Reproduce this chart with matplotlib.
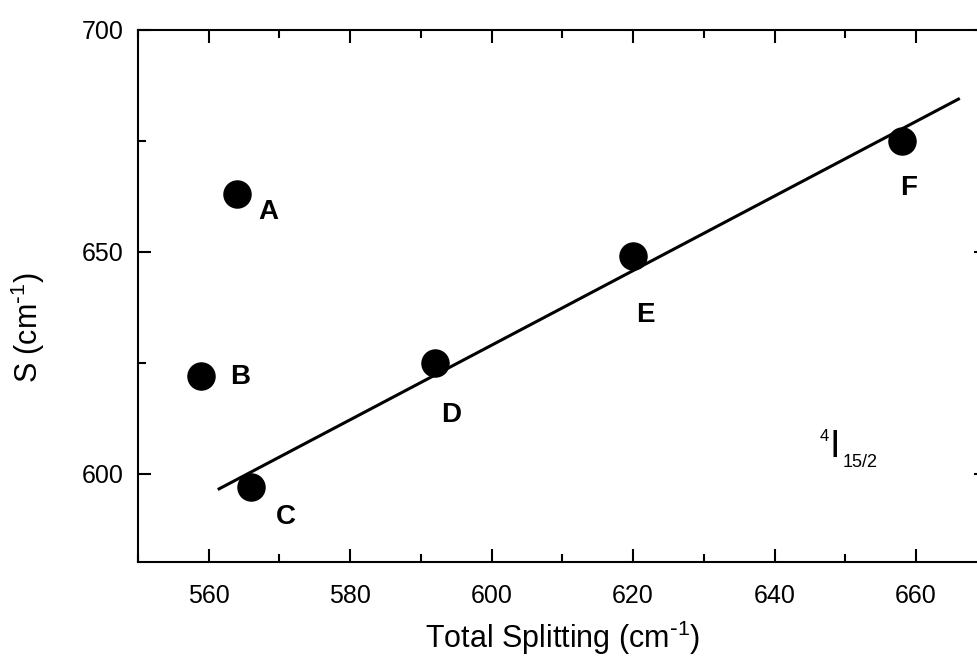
import numpy as np
import matplotlib
matplotlib.use("Agg")
import matplotlib.pyplot as plt
from matplotlib.ticker import MultipleLocator

plt.rcParams['font.family'] = ['Liberation Sans', 'DejaVu Sans']
plt.rcParams['mathtext.default'] = 'regular'

# sites and their (total splitting, S) values, cm^-1
site_names = ['A', 'B', 'C', 'D', 'E', 'F']
total_splitting = [564, 559, 566, 592, 620, 658]
s_values = [663, 622, 597, 625, 649, 675]
# sites used for the linear fit
fit_sites = ['C', 'D', 'E', 'F']
fit_range = [561.5, 666]

# where each letter sits relative to its point (points)
label_offsets = {
    'A': (23, -13), 'B': (28, -1), 'C': (25, -22),
    'D': (12, -38), 'E': (9, -42), 'F': (5, -34),
}

fig = plt.figure(figsize=(9.77, 6.56), dpi=100)
ax = fig.add_axes([0.141, 0.1428, 0.869, 0.8115])

idx = [site_names.index(s) for s in fit_sites]
fx = np.array(total_splitting)[idx]
fy = np.array(s_values)[idx]
slope, intercept = np.polyfit(fx, fy, 1)
xl = np.array(fit_range)
ax.plot(xl, slope * xl + intercept, color='black', lw=2.2, zorder=2)

ax.plot(total_splitting, s_values, 'o', color='black', ms=19.5, zorder=3)
for name, x, y in zip(site_names, total_splitting, s_values):
    ax.annotate(name, (x, y), xytext=label_offsets[name], textcoords='offset points',
                ha='center', va='center', fontsize=20, fontweight='bold')

# term symbol 4I15/2
ax.text(0.808, 0.228, '4', transform=ax.transAxes, fontsize=12,
        ha='center', va='baseline')
ax.text(0.821, 0.198, 'I', transform=ax.transAxes, fontsize=27,
        ha='center', va='baseline')
ax.text(0.830, 0.18, '15/2', transform=ax.transAxes, fontsize=13,
        ha='left', va='baseline')

ax.set_xlim(550, 670)
ax.set_ylim(580, 700)
ax.xaxis.set_major_locator(MultipleLocator(20))
ax.xaxis.set_minor_locator(MultipleLocator(10))
ax.yaxis.set_major_locator(MultipleLocator(50))
ax.yaxis.set_minor_locator(MultipleLocator(25))
ax.tick_params(which='both', direction='in', top=True, right=True, width=1.5)
ax.tick_params(which='major', length=9.5, labelsize=18)
ax.tick_params(which='minor', length=5.5)
ax.tick_params(axis='x', pad=15.5)
ax.tick_params(axis='y', pad=10)
for sp in ax.spines.values():
    sp.set_linewidth(1.5)

unit = r'(cm$^{\text{-}1}$)'
ax.set_xlabel('Total Splitting ' + unit, fontsize=22, labelpad=8)
ax.set_ylabel('S ' + unit, fontsize=22, ha='center', va='center')
ax.yaxis.set_label_coords(-0.13, 0.44)

fig.savefig('out.png', dpi=100)
